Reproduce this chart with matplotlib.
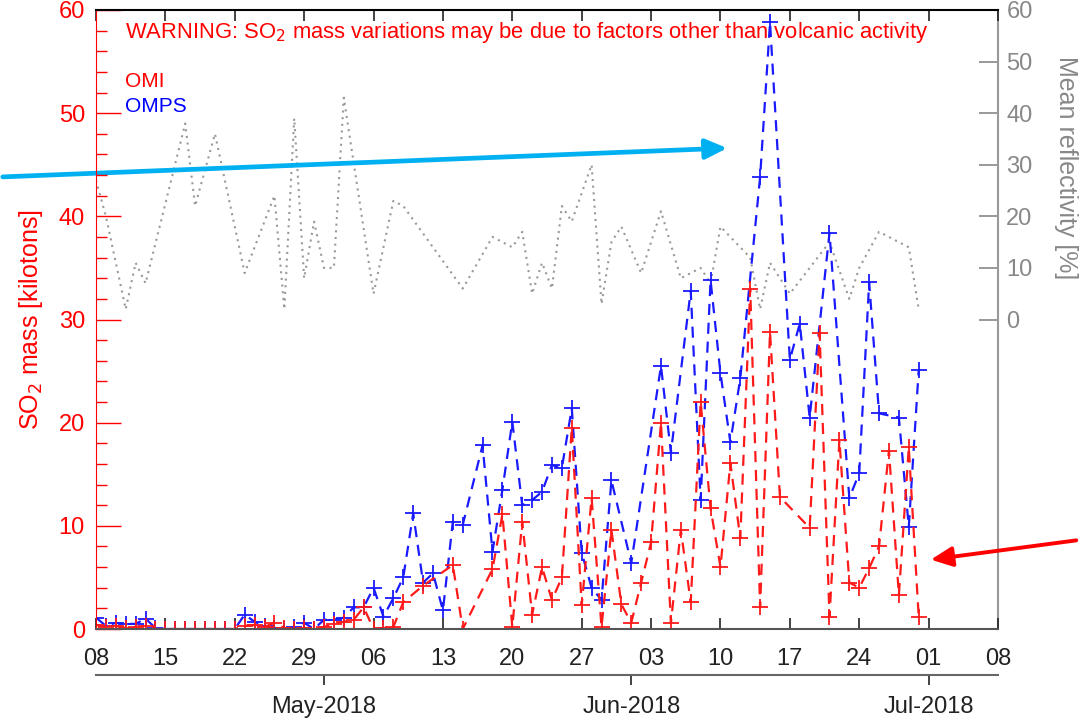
import numpy as np
import matplotlib.pyplot as plt
from matplotlib.patches import FancyArrowPatch

plt.rcParams['font.family'] = ['Liberation Sans', 'DejaVu Sans']

start = np.datetime64('2018-04-08')

# days since 2018-04-08
omi_days = [0, 1, 2, 3, 4, 5, 6, 7, 8, 9, 10, 11, 12, 13, 14, 15, 16, 17, 18, 19,
            20, 21, 22, 23, 24, 25, 26, 27, 28, 29, 30, 31, 33, 36, 37, 40, 41, 42, 43, 44,
            45, 46, 47, 48, 49, 50, 51, 52, 53, 54, 55, 56, 57, 58, 59, 60, 61, 62, 63, 64,
            65, 66, 67, 68, 69, 72, 73, 74, 75, 76, 77, 78, 79, 80, 81, 82, 83]
omi_mass = [0.4, 0.2, 0.3, 0.1, 0.2, 0.3, 0.0, 0.0, 0.0, 0.0, 0.0, 0.0, 0.0, 0.0, 0.0, 0.3, 0.4, 0.2, 0.6, 0.1,
            0.0, 0.1, 0.0, 0.2, 0.5, 0.7, 0.9, 2.1, 0.0, 0.1, 0.2, 2.6, 4.2, 6.2, 0.0, 5.8, 11.1, 0.2, 10.4, 1.4,
            6.0, 2.8, 5.0, 19.5, 2.3, 12.7, 0.2, 9.6, 2.4, 0.6, 4.5, 8.4, 20.0, 0.6, 9.6, 2.6, 22.0, 11.7, 6.0, 16.1,
            8.8, 33.0, 2.1, 28.8, 12.8, 9.8, 28.7, 1.2, 18.3, 4.5, 4.0, 5.9, 8.0, 17.3, 3.3, 17.6, 1.2]

omps_days = [0, 1, 2, 3, 4, 5, 6, 7, 8, 9, 10, 11, 12, 13, 14, 15, 16, 17, 18, 19,
             20, 21, 22, 23, 24, 25, 26, 27, 28, 29, 30, 31, 32, 33, 34, 35, 36, 37, 39, 40,
             41, 42, 43, 44, 45, 46, 47, 48, 49, 50, 51, 52, 54, 57, 58, 60, 61, 62, 63, 64,
             65, 67, 68, 70, 71, 72, 74, 76, 77, 78, 79, 81, 82, 83]
omps_mass = [1.1, 0.3, 0.6, 0.5, 0.5, 1.0, 0.1, 0.0, 0.0, 0.0, 0.0, 0.0, 0.0, 0.0, 0.0, 1.4, 0.7, 0.3, 0.1, 0.0,
             0.2, 0.6, 0.0, 0.9, 0.9, 1.1, 2.1, 2.1, 4.0, 1.2, 3.0, 5.0, 11.2, 4.5, 5.4, 1.8, 10.4, 10.1, 17.8, 7.5,
             13.5, 20.1, 12.0, 12.5, 13.3, 15.9, 15.6, 21.4, 7.4, 4.0, 2.8, 14.4, 6.4, 25.5, 17.1, 32.8, 12.5, 33.8, 24.8, 18.1,
             24.3, 43.8, 58.8, 26.1, 29.6, 20.5, 38.4, 12.7, 15.1, 33.6, 20.9, 20.5, 9.9, 25.1]

refl_days = [0, 1, 3, 4, 5, 9, 10, 12, 15, 18, 19, 20, 21, 22, 23, 24, 25, 28, 30, 31,
             37, 40, 42, 43, 44, 45, 46, 47, 48, 50, 51, 52, 53, 55, 57, 59, 61, 62, 63, 66,
             67, 68, 70, 74, 76, 77, 79, 82, 83]
refl_vals = [27, 20, 2, 11, 7, 38, 22, 36, 9, 24, 2, 39, 8, 19, 10, 10, 43, 5, 23, 22,
             6, 16, 14, 17, 5, 11, 6, 22, 19, 30, 3, 15, 18, 9, 21, 8, 10, 7, 18, 12,
             2, 11, 5, 15, 4, 10, 17, 14, 2]

week_ticks = np.arange(np.datetime64('2018-04-08'), np.datetime64('2018-07-09'), 7)
month_ticks = np.array(['2018-05-01', '2018-06-01', '2018-07-01'], dtype='datetime64[D]')
month_labels = ['May-2018', 'Jun-2018', 'Jul-2018']


def to_dates(days):
    return start + np.array(days, dtype='timedelta64[D]')


fig = plt.figure(figsize=(10.79, 7.18), dpi=100)
ax = fig.add_axes([96 / 1079, 1 - 629 / 718, 902 / 1079, 619 / 718])
ax2 = ax.twinx()
ax.set_zorder(ax2.get_zorder() + 1)
ax.patch.set_visible(False)

dash = (0, (5, 3.5))
ax2.plot(to_dates(refl_days), refl_vals, color='#999999', lw=1.5, linestyle=(0, (1, 2.2)))
ax.plot(to_dates(omps_days), omps_mass, color='#1a1aff', lw=1.6, linestyle=dash,
        marker='+', markersize=12, mew=1.3)
ax.plot(to_dates(omi_days), omi_mass, color='#ff1a1a', lw=1.6, linestyle=dash,
        marker='+', markersize=12, mew=1.3)

ax.set_xlim(np.datetime64('2018-04-08'), np.datetime64('2018-07-08'))
ax.set_ylim(0, 60)
ax2.set_ylim(-60, 60)

# left axis
ax.set_yticks(np.arange(0, 61, 10))
ax.set_yticks(np.arange(0, 61, 2), minor=True)
ax.tick_params(axis='y', which='both', direction='in', colors='red', labelsize=17, pad=8)
ax.tick_params(axis='y', which='major', length=18, width=1)
ax.tick_params(axis='y', which='minor', length=8, width=1)
ax.spines['left'].set_color('red')
ax.set_ylabel('SO$_2$ mass [kilotons]', color='red', fontsize=18, labelpad=10)

# bottom / top axis
ax.set_xticks(week_ticks)
ax.set_xticklabels([str(d.astype(object).day).zfill(2) for d in week_ticks])
ax.tick_params(axis='x', which='major', direction='in', length=8, width=1.2,
               labelsize=17, pad=14, colors='#222222', top=True)
ax.tick_params(axis='x', which='minor', bottom=False, top=False)
ax.spines['bottom'].set_color('#555555')
ax.spines['bottom'].set_linewidth(1.5)
ax.spines['top'].set_color('black')
ax.spines['top'].set_linewidth(1.5)
ax.spines['right'].set_visible(False)

# right axis
ax2.set_yticks(np.arange(0, 61, 10))
ax2.tick_params(axis='y', direction='in', length=14, width=1.2, colors='#888888',
                labelsize=17, pad=6)
for side in ['left', 'top', 'bottom']:
    ax2.spines[side].set_visible(False)
ax2.spines['right'].set_color('#999999')
ax2.spines['right'].set_linewidth(1.5)
ax2.text(1.075, 0.745, 'Mean reflectivity [%]', transform=ax2.transAxes, rotation=270,
         color='#888888', fontsize=18, ha='center', va='center')

# month axis below
sec = ax.secondary_xaxis(-0.074)
sec.set_xticks(month_ticks)
sec.set_xticklabels(month_labels)
sec.tick_params(direction='out', length=7, width=1.2, colors='#222222', labelsize=17, pad=8)
sec.spines['bottom'].set_color('#666666')
sec.spines['bottom'].set_linewidth(1.5)

# texts
ax.text(0.032, 0.964, 'WARNING: SO$_2$ mass variations may be due to factors other than volcanic activity',
        transform=ax.transAxes, color='red', fontsize=15.8, va='center', ha='left')
ax.text(0.032, 0.884, 'OMI', transform=ax.transAxes, color='red', fontsize=15, va='center')
ax.text(0.032, 0.844, 'OMPS', transform=ax.transAxes, color='blue', fontsize=15, va='center')

# annotation arrows
fig.add_artist(FancyArrowPatch((0.0, 1 - 177 / 718), (730 / 1079, 1 - 148 / 718),
                               transform=fig.transFigure, arrowstyle='-|>,head_length=13,head_width=6',
                               color='#00b0f0', lw=3.4, mutation_scale=1))
fig.add_artist(FancyArrowPatch((1.0, 1 - 540 / 718), (928 / 1079, 1 - 560 / 718),
                               transform=fig.transFigure, arrowstyle='-|>,head_length=13,head_width=6',
                               color='#ff0000', lw=2.8, mutation_scale=1))

fig.savefig('out.png', dpi=100)
